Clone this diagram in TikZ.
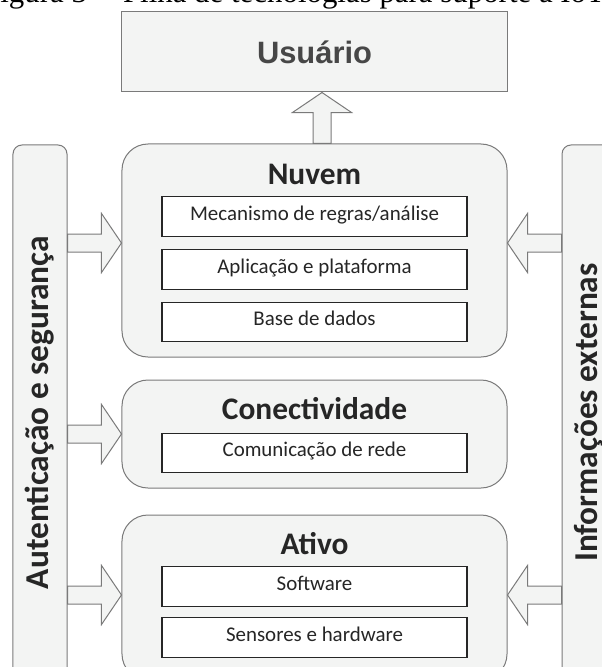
\documentclass[tikz,border=0pt]{standalone}
\usepackage{fontspec}
\setmainfont{Carlito}
\newfontfamily\arialfont{Liberation Sans}
\newfontfamily\timesfont{Liberation Serif}
\usetikzlibrary{calc}

\definecolor{fundo}{HTML}{F3F4F3}
\definecolor{borda}{HTML}{7A7A7A}
\definecolor{texto}{HTML}{262626}

% seta larga de #1 ate #2
\newcommand{\setabloco}[2]{%
  \path (#1) coordinate (s0) (#2) coordinate (t0);
  \coordinate (h0) at ($(t0)!20bp!(s0)$);
  \draw[seta] ($(s0)!9bp!90:(t0)$) -- ($(h0)!9bp!90:(t0)$) -- ($(h0)!29.5bp!90:(t0)$) -- (t0)
    -- ($(h0)!29.5bp!-90:(t0)$) -- ($(h0)!9bp!-90:(t0)$) -- ($(s0)!9bp!-90:(t0)$) -- cycle;
}

\begin{document}
\begin{tikzpicture}[x=1bp,y=-1bp,
  grupo/.style={draw=borda,fill=fundo,line width=1bp,rounded corners=26bp,minimum width=385bp,inner sep=0pt},
  item/.style={draw=texto,fill=white,line width=1.2bp,minimum width=305bp,minimum height=39.5bp,inner sep=0pt,
    text height=0.75em,text depth=0pt,font=\fontsize{21}{25}\selectfont,text=texto},
  titulo/.style={font=\fontsize{31.5}{37}\selectfont\bfseries,text=texto,inner sep=0pt},
  barra/.style={draw=borda,fill=fundo,line width=1bp,rounded corners=9bp,rotate=90,minimum width=535bp,
    minimum height=54bp,inner sep=0pt,font=\fontsize{33.5}{40}\selectfont\bfseries,text=texto},
  seta/.style={draw=borda,fill=fundo,line width=1bp}]

\useasboundingbox (0,0) rectangle (602,667);
\clip (0,0) rectangle (602,667);

\node[anchor=base west,inner sep=0pt,font=\timesfont\fontsize{31}{36}\selectfont] (legenda) at (-17,3)
  {Figura 3 -- Pilha de tecnologias para suporte à IoT};

\node[draw=borda,fill=fundo,line width=1bp,minimum width=385bp,minimum height=80bp,
  font=\arialfont\fontsize{31}{36}\selectfont\bfseries,text=texto!85] (usuario) at (314.5,52) {Usuário};

% barras laterais
\node[barra] (aut) at (40,412.5) {Autenticação e segurança};
\node[barra] (inf) at (589,412.5) {Informações externas};

% nuvem
\node[grupo,minimum height=213bp] (nuvem) at (314.5,250.5) {};
\node[titulo] (tnuvem) at (314.5,174) {Nuvem};
\node[item] (mec) at (314.5,216.5) {Mecanismo de regras/análise};
\node[item] (apl) at (314.5,269.5) {Aplicação e plataforma};
\node[item] (base) at (314.5,322) {Base de dados};

% conectividade
\node[grupo,minimum height=108bp] (con) at (314.5,434) {};
\node[titulo] (tcon) at (314.5,409) {Conectividade};
\node[item] (rede) at (314.5,453) {Comunicação de rede};

% ativo
\node[grupo,minimum height=165bp] (ativo) at (314.5,597.5) {};
\node[titulo] (tativo) at (314.5,544) {Ativo};
\node[item] (soft) at (314.5,586.5) {Software};
\node[item] (sens) at (314.5,637.5) {Sensores e hardware};

\coordinate (n1) at (0,243);
\coordinate (n2) at (0,434);
\coordinate (n3) at (0,595);
\coordinate (u1) at (322,0);

\setabloco{aut.south |- n1}{nuvem.west |- n1}
\setabloco{aut.south |- n2}{con.west |- n2}
\setabloco{aut.south |- n3}{ativo.west |- n3}
\setabloco{inf.north |- n1}{nuvem.east |- n1}
\setabloco{inf.north |- n3}{ativo.east |- n3}
\setabloco{nuvem.north -| u1}{usuario.south -| u1}

\end{tikzpicture}
\end{document}
